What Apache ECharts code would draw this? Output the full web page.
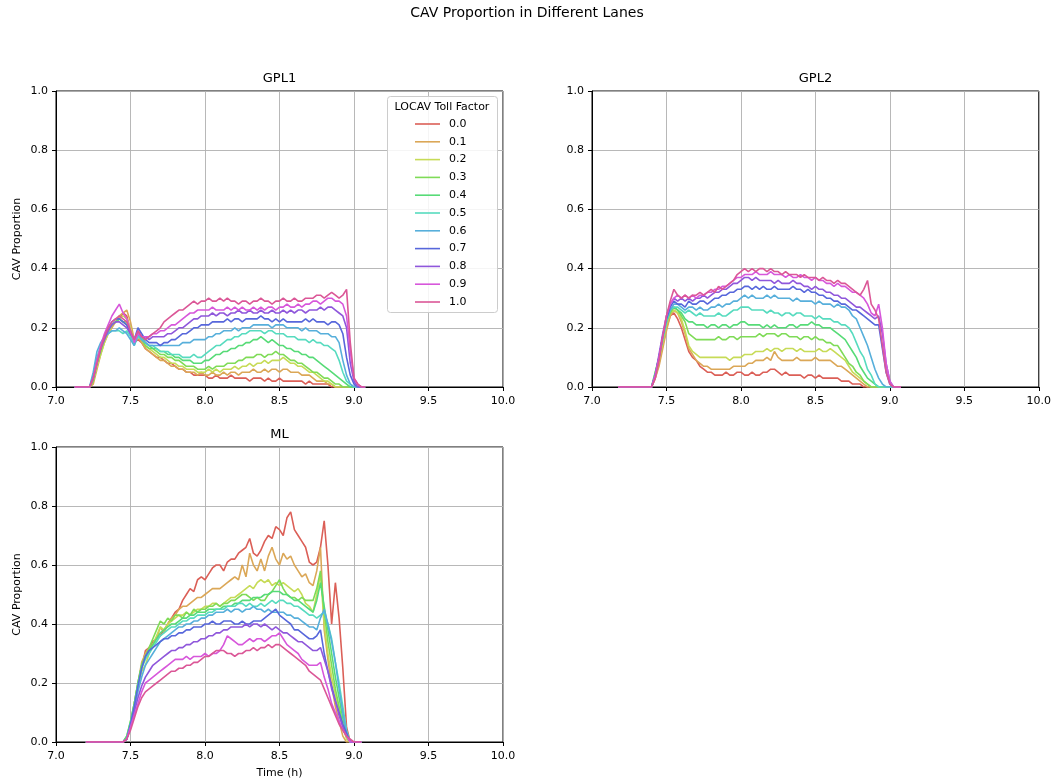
<!DOCTYPE html>
<html>
<head>
    <meta charset="utf-8">
    <title>CAV Proportion in Different Lanes</title>
    <script src="https://cdn.jsdelivr.net/npm/echarts@6/dist/echarts.min.js"></script>
    <style>
        html, body { margin: 0; padding: 0; background: #fff; }
        #main { width: 1054px; height: 784px; }
    </style>
</head>
<body>
<div id="main"></div>
<script>
    // time of day (h), one sample every 1.5 min
    var times = [7.100, 7.125, 7.150, 7.175, 7.200, 7.225, 7.250, 7.275, 7.300, 7.325,
        7.350, 7.375, 7.400, 7.425, 7.450, 7.475, 7.500, 7.525, 7.550, 7.575,
        7.600, 7.625, 7.650, 7.675, 7.700, 7.725, 7.750, 7.775, 7.800, 7.825,
        7.850, 7.875, 7.900, 7.925, 7.950, 7.975, 8.000, 8.025, 8.050, 8.075,
        8.100, 8.125, 8.150, 8.175, 8.200, 8.225, 8.250, 8.275, 8.300, 8.325,
        8.350, 8.375, 8.400, 8.425, 8.450, 8.475, 8.500, 8.525, 8.550, 8.575,
        8.600, 8.625, 8.650, 8.675, 8.700, 8.725, 8.750, 8.775, 8.800, 8.825,
        8.850, 8.875, 8.900, 8.925, 8.950, 8.975, 9.000, 9.025, 9.050, 9.075, 9.100];

    var factors = ['0.0', '0.1', '0.2', '0.3', '0.4', '0.5', '0.6', '0.7', '0.8', '0.9', '1.0'];

    // CAV proportion in percent, one row per toll factor (0.0 .. 1.0)
    var gpl1 = [
        [null, 0,0,0,0,0, 2,7,12,16,19, 21,22,23,25,24, 19,15,16,15,13, 12,11,10,10,9, 8,8,7,6,6, 5,5,4,4,4, 4,3,3,4,3, 3,3,4,3,3, 3,3,2,3,3, 3,2,3,2,2, 3,2,2,2,2, 2,2,1,2,1, 1,1,1,1,0, 0,0,0,0,0,0,0,0,0, null],
        [null, 0,0,0,0,0, 1,6,11,15,18, 20,22,24,25,26, 22,16,17,15,13, 12,11,10,9,9, 8,7,7,6,6, 5,5,5,4,5, 4,4,5,4,4, 5,4,5,5,4, 5,5,5,6,5, 5,6,5,6,6, 5,6,6,5,5, 5,4,4,4,3, 2,2,2,1,1, 0,0,0,0,0,0,0,0,0, null],
        [null, 0,0,0,0,0, 2,7,11,15,18, 21,22,23,24,23, 20,15,17,16,14, 13,12,11,10,10, 9,8,8,7,7, 6,6,6,5,5, 5,6,5,6,5, 6,6,6,7,6, 7,7,8,7,8, 8,9,8,9,9, 9,10,9,8,8, 7,7,6,5,5, 4,3,2,2,1, 0,0,0,0,0,0,0,0,0, null],
        [null, 0,0,0,0,0, 2,8,12,16,19, 21,22,23,22,22, 19,15,17,16,14, 13,13,12,11,11, 10,10,9,9,8, 7,7,7,6,6, 6,7,6,7,7, 7,8,8,8,9, 9,10,10,10,11, 11,10,11,11,12, 11,11,10,9,9, 8,8,7,6,5, 5,4,3,3,2, 1,1,0,0,0,0,0,0,0, null],
        [null, 0,0,0,0,0, 3,8,13,17,19, 21,22,23,22,21, 18,15,18,17,15, 14,13,13,12,12, 11,11,10,10,9, 9,9,8,8,8, 9,9,10,11,11, 12,12,13,13,14, 14,15,15,16,16, 17,16,15,16,15, 14,14,13,13,12, 12,11,11,10,10, 9,8,7,6,5, 4,3,2,1,0,0,0,0,0, null],
        [null, 0,0,0,0,0, 4,10,14,17,18, 19,19,19,18,19, 17,14,17,16,15, 14,14,13,12,12, 12,11,11,11,10, 10,10,11,10,10, 11,12,13,14,14, 15,16,16,17,17, 18,18,19,19,19, 19,18,19,19,18, 18,18,17,17,17, 16,16,16,15,16, 15,15,14,14,13, 12,9,5,2,1,0,0,0,0, null],
        [null, 0,0,0,0,0, 5,12,15,17,18, 19,19,20,19,18, 16,14,18,16,15, 14,14,14,14,14, 14,14,14,14,15, 15,15,16,16,16, 16,17,17,18,18, 19,19,19,20,19, 20,20,20,21,21, 21,21,21,20,21, 21,21,20,20,20, 20,19,20,19,19, 19,18,18,18,17, 17,15,9,4,1,0,0,0,0, null],
        [null, 0,0,0,0,0, 3,9,13,17,20, 22,23,23,22,21, 18,16,20,18,16, 15,15,15,14,15, 15,16,16,17,18, 18,19,20,20,21, 21,21,22,22,22, 22,23,22,23,23, 22,23,23,23,23, 24,23,23,22,23, 22,23,22,22,22, 22,22,23,22,23, 22,22,22,21,22, 22,21,18,10,4,1,0,0,0, null],
        [null, 0,0,0,0,0, 3,8,13,16,19, 21,22,22,21,20, 18,16,19,17,17, 16,17,17,17,17, 18,18,19,20,20, 21,22,23,23,24, 24,24,25,24,25, 25,24,25,25,26, 25,25,26,25,25, 26,25,25,26,25, 25,26,25,26,25, 26,26,25,26,26, 26,27,26,27,27, 26,25,24,20,8,2,0,0,0, null],
        [null, 0,0,0,0,0, 3,9,14,18,21, 24,26,28,25,23, 19,15,18,17,17, 17,18,18,19,19, 20,21,21,22,23, 24,25,25,26,26, 26,26,27,26,26, 26,27,26,27,26, 27,26,26,27,26, 27,26,27,27,26, 27,27,28,27,27, 28,27,28,28,29, 29,28,29,30,30, 29,29,28,24,12,3,1,0,0, null],
        [null, 0,0,0,0,0, 3,8,13,17,20, 22,23,24,23,22, 19,16,19,17,16, 17,18,19,20,22, 23,24,25,26,26, 27,28,29,28,29, 29,30,29,29,30, 29,30,29,29,28, 29,29,28,29,29, 30,29,29,28,29, 29,30,29,29,30, 29,29,30,30,30, 31,31,30,31,32, 31,30,31,33,15,3,1,0,0, null]
    ];

    var gpl2 = [
        [null,null,null, 0,0,0,0,0,0,0,0,0,0, 3,8,14,20,24, 25,23,20,16,12, 10,9,7,6,5, 5,4,4,4,5, 4,4,5,5,4, 4,5,4,4,5, 5,6,6,5,4, 5,4,4,4,4, 3,4,4,3,4, 3,3,3,3,3, 2,2,2,1,1, 1,0,0,0,0, 0,0,0,0,0,0,0, null],
        [null,null,null, 0,0,0,0,0,0,0,0,0,0, 3,7,13,19,24, 26,25,22,18,13, 11,9,8,7,7, 6,6,6,6,6, 6,7,7,7,7, 8,8,9,9,9, 10,9,12,10,9, 9,9,9,10,9, 9,9,9,10,9, 9,9,9,8,7, 7,6,5,4,3, 2,1,0,0,0, 0,0,0,0,0,0,0, null],
        [null,null,null, 0,0,0,0,0,0,0,0,0,0, 4,9,15,21,25, 26,25,23,19,14, 12,11,10,10,10, 10,10,10,10,10, 9,10,10,10,11, 11,11,12,12,12, 13,12,13,13,12, 13,13,13,12,13, 12,12,12,12,13, 12,12,13,12,11, 10,9,7,5,4, 3,2,1,0,0, 0,0,0,0,0,0,0, null],
        [null,null,null, 0,0,0,0,0,0,0,0,0,0, 5,10,16,22,25, 27,26,24,22,18, 17,16,16,16,16, 16,16,17,16,16, 17,17,16,17,17, 17,17,17,18,17, 18,18,18,17,18, 18,17,17,17,16, 17,17,16,17,16, 16,15,15,14,14, 12,10,8,7,5, 4,2,1,0,0, 0,0,0,0,0,0,0, null],
        [null,null,null, 0,0,0,0,0,0,0,0,0,0, 5,10,17,22,26, 27,26,25,23,22, 22,21,21,21,20, 21,21,20,21,21, 20,21,21,22,22, 21,21,21,21,20, 21,20,21,20,20, 20,21,21,20,21, 21,21,22,21,21, 20,20,20,19,18, 17,16,14,12,10, 7,5,3,2,1, 0,0,0,0,0,0,0, null],
        [null,null,null, 0,0,0,0,0,0,0,0,0,0, 4,10,16,22,26, 27,27,26,25,26, 25,24,25,24,24, 24,24,25,24,24, 25,26,26,27,27, 27,26,26,26,26, 25,26,25,25,24, 25,25,24,25,25, 24,24,24,23,24, 23,23,23,22,22, 21,21,20,18,15, 12,10,6,4,1, 0,0,0,0,0,0,0, null],
        [null,null,null, 0,0,0,0,0,0,0,0,0,0, 4,10,17,23,26, 28,28,27,26,27, 27,26,27,26,26, 27,27,28,27,28, 28,29,29,30,31, 30,31,30,30,30, 31,30,31,30,30, 30,30,29,30,29, 29,29,29,28,29, 28,28,28,27,28, 27,27,26,24,23, 20,17,14,10,6, 3,1,0,0,0,0,0, null],
        [null,null,null, 0,0,0,0,0,0,0,0,0,0, 4,10,17,23,27, 29,28,28,27,29, 28,28,29,29,28, 29,30,30,31,31, 32,32,33,33,34, 34,33,34,33,34, 33,33,34,33,33, 33,33,34,33,33, 32,33,32,32,31, 31,30,30,29,29, 28,28,27,26,26, 25,24,23,22,21, 21,13,5,1,0,0,0, null],
        [null,null,null, 0,0,0,0,0,0,0,0,0,0, 4,11,18,24,28, 30,29,30,29,30, 29,30,30,31,30, 31,32,32,33,33, 34,35,35,36,37, 37,36,37,36,36, 36,36,35,36,35, 35,35,36,35,35, 34,34,33,34,33, 33,32,32,31,31, 30,30,29,28,27, 27,26,25,24,23, 24,18,8,2,0,0,0, null],
        [null,null,null, 0,0,0,0,0,0,0,0,0,0, 4,10,17,24,28, 30,31,30,31,30, 31,30,31,31,32, 32,33,33,34,34, 35,36,37,37,38, 38,38,39,38,38, 38,39,38,38,38, 37,38,37,37,38, 37,37,36,37,36, 36,35,35,34,35, 34,34,33,32,32, 31,30,28,25,24, 28,20,8,2,0,0,0, null],
        [null,null,null, 0,0,0,0,0,0,0,0,0,0, 3,9,17,24,29, 33,31,30,31,30, 31,31,32,31,32, 33,32,34,33,34, 35,36,38,39,40, 39,40,39,40,40, 39,40,39,39,38, 39,38,38,38,37, 38,37,37,37,36, 37,36,36,35,36, 35,35,34,33,32, 31,33,36,28,26, 23,14,5,1,0,0,0, null]
    ];

    var ml = [
        [null,null,null,null, 0,0,0,0,0,0,0,0,0,0,0, 1,6,12,19,25, 31,32,34,35,36, 38,40,42,44,45, 48,50,52,51,55, 56,55,57,59,60, 60,58,61,62,62, 64,65,66,69,64, 63,65,68,70,69, 73,72,70,76,78, 72,70,68,66,61, 60,61,66,75,60, 40,54,42,25,5, 0,0,0,0, null,null],
        [null,null,null,null, 0,0,0,0,0,0,0,0,0,0,0, 1,6,13,20,27, 30,32,33,35,39, 37,40,42,43,45, 46,46,47,48,49, 49,50,51,52,52, 52,53,54,55,56, 55,60,56,64,60, 58,62,58,63,66, 62,60,64,62,63, 60,58,56,57,54, 53,58,66,38,28, 19,12,7,2,0, 0,0,0,0, null,null],
        [null,null,null,null, 0,0,0,0,0,0,0,0,0,0,0, 1,6,12,19,24, 26,30,33,36,39, 38,40,41,42,43, 43,44,43,44,45, 45,46,46,47,47, 46,47,48,49,49, 50,51,52,53,52, 54,55,54,55,53, 54,53,54,53,52, 51,52,50,47,46, 44,50,57,40,30, 22,16,11,5,1, 0,0,0,0, null,null],
        [null,null,null,null, 0,0,0,0,0,0,0,0,0,0,0, 2,7,13,20,26, 29,32,35,38,41, 40,42,41,43,43, 42,44,43,45,44, 45,45,46,46,47, 46,47,47,48,48, 49,50,50,49,48, 49,48,48,50,51, 53,55,52,50,49, 49,48,49,48,48, 48,52,58,44,34, 26,18,12,6,2, 0,0,0,0, null,null],
        [null,null,null,null, 0,0,0,0,0,0,0,0,0,0,0, 2,7,13,20,26, 29,31,33,35,37, 38,39,40,40,41, 42,42,43,43,44, 44,44,45,45,45, 45,46,46,46,47, 47,48,48,48,49, 49,49,50,50,51, 51,51,50,50,49, 48,48,47,46,45, 44,48,54,46,38, 30,22,15,8,3, 0,0,0,0, null,null],
        [null,null,null,null, 0,0,0,0,0,0,0,0,0,0,0, 1,6,12,19,25, 28,30,32,34,36, 37,38,39,39,40, 41,41,42,42,43, 43,43,44,44,45, 45,45,46,46,46, 47,47,46,47,46, 46,47,46,47,48, 47,48,48,47,47, 46,46,45,44,43, 43,42,43,44,40, 35,27,20,12,4, 0,0,0,0, null,null],
        [null,null,null,null, 0,0,0,0,0,0,0,0,0,0,0, 1,6,11,17,22, 26,28,30,32,34, 35,36,37,38,39, 39,40,40,41,41, 42,42,43,43,44, 44,44,45,44,45, 45,44,45,45,46, 45,45,44,45,44, 44,44,44,43,43, 42,42,41,40,39, 39,38,42,45,40, 34,27,18,10,3, 0,0,0,0, null,null],
        [null,null,null,null, 0,0,0,0,0,0,0,0,0,0,0, 1,6,12,19,25, 29,31,32,33,34, 35,35,36,36,37, 37,38,38,39,39, 39,40,40,41,40, 40,41,41,41,40, 40,41,40,40,41, 41,41,42,43,44, 45,43,42,41,40, 38,38,37,36,35, 35,36,38,30,24, 19,14,10,6,3, 0,0,0,0, null,null],
        [null,null,null,null, 0,0,0,0,0,0,0,0,0,0,0, 1,5,10,15,19, 22,24,26,27,28, 29,30,31,31,32, 32,33,33,34,34, 35,35,36,36,37, 37,38,38,39,39, 39,39,40,39,40, 40,39,40,39,38, 39,38,37,37,36, 35,34,34,33,32, 31,31,32,28,24, 18,14,9,5,2, 0,0,0,0, null,null],
        [null,null,null,null, 0,0,0,0,0,0,0,0,0,0,0, 1,5,9,13,17, 20,21,22,23,24, 25,26,27,28,28, 28,29,28,29,29, 29,30,29,30,30, 31,33,36,35,34, 33,33,34,35,34, 35,35,34,35,36, 36,37,35,33,32, 31,30,28,27,26, 26,26,27,22,18, 13,10,7,4,2, 0,0,0,0, null,null],
        [null,null,null,null, 0,0,0,0,0,0,0,0,0,0,0, 1,4,8,12,15, 17,18,19,20,21, 22,23,24,24,25, 25,26,26,27,27, 28,29,29,30,31, 31,31,30,30,29, 30,30,31,31,32, 31,32,32,33,32, 33,33,32,31,30, 29,28,27,26,24, 23,22,21,18,15, 12,9,6,4,2, 1,0,0,0, null,null]
    ];

    var colors = ['#db5f57', '#dba757', '#c7db57', '#7fdb57', '#57db77', '#57dbbf',
        '#57afdb', '#5767db', '#8f57db', '#d757db', '#db5797'];

    var font = '"DejaVu Sans", sans-serif';

    var chart = echarts.init(document.getElementById('main'), null, { renderer: 'canvas' });

    function laneSeries(rows, idx) {
        return rows.map(function (row, k) {
            var pts = [];
            row.forEach(function (v, i) {
                if (v !== null) pts.push([times[i], v / 100]);
            });
            return {
                name: factors[k],
                type: 'line',
                xAxisIndex: idx,
                yAxisIndex: idx,
                symbol: 'none',
                animation: false,
                lineStyle: { width: 1.6, color: colors[k] },
                itemStyle: { color: colors[k] },
                data: pts
            };
        });
    }

    function xAxis(idx, name) {
        return {
            type: 'value', gridIndex: idx, min: 7, max: 10, interval: 0.5,
            name: name, nameLocation: 'middle', nameGap: 26,
            nameTextStyle: { fontSize: 11, fontFamily: font, color: '#000' },
            axisLine: { onZero: false, lineStyle: { color: '#000', width: 1 } },
            axisTick: { length: 4, lineStyle: { color: '#000' } },
            axisLabel: {
                margin: 9, fontSize: 11, fontFamily: font, color: '#000',
                formatter: function (v) { return v.toFixed(1); }
            },
            splitLine: { show: true, lineStyle: { color: '#b0b0b0', width: 0.9 } }
        };
    }

    function yAxis(idx, name) {
        return {
            type: 'value', gridIndex: idx, min: 0, max: 1, interval: 0.2,
            name: name, nameLocation: 'middle', nameGap: 33,
            nameTextStyle: { fontSize: 11, fontFamily: font, color: '#000' },
            axisLine: { show: true, onZero: false, lineStyle: { color: '#000', width: 1 } },
            axisTick: { show: true, length: 4, lineStyle: { color: '#000' } },
            axisLabel: {
                margin: 8, fontSize: 11, fontFamily: font, color: '#000',
                formatter: function (v) { return v.toFixed(1); }
            },
            splitLine: { show: true, lineStyle: { color: '#b0b0b0', width: 0.9 } }
        };
    }

    var gridBox = { show: true, borderColor: '#000', borderWidth: 1, backgroundColor: 'transparent' };

    function label(text, x, y, size) {
        return {
            type: 'text', z: 51,
            style: {
                text: text, x: x, y: y, align: 'center', verticalAlign: 'middle',
                font: size + 'px ' + font, fill: '#000'
            }
        };
    }

    chart.setOption({
        backgroundColor: '#fff',
        animation: false,
        grid: [
            Object.assign({ left: 56, top: 91, width: 447, height: 296 }, gridBox),
            Object.assign({ left: 592, top: 91, width: 447, height: 296 }, gridBox),
            Object.assign({ left: 56, top: 447, width: 447, height: 295 }, gridBox)
        ],
        xAxis: [xAxis(0, ''), xAxis(1, ''), xAxis(2, 'Time (h)')],
        yAxis: [yAxis(0, 'CAV Proportion'), yAxis(1, ''), yAxis(2, 'CAV Proportion')],
        legend: {
            data: factors,
            orient: 'vertical',
            left: 415,
            top: 118.5,
            padding: 0,
            icon: 'rect',
            itemWidth: 25,
            itemHeight: 1.6,
            itemGap: 6.8,
            z: 60,
            textStyle: { fontSize: 11, fontFamily: font, color: '#000', padding: [0, 0, 0, 4] }
        },
        graphic: [
            label('CAV Proportion in Different Lanes', 527, 13, 14),
            label('GPL1', 279.5, 79, 13),
            label('GPL2', 815.5, 79, 13),
            label('ML', 279.5, 435, 13),
            {
                type: 'rect', z: 50,
                shape: { x: 387.5, y: 96.5, width: 110, height: 216, r: 3 },
                style: { fill: 'rgba(255,255,255,0.85)', stroke: '#cccccc', lineWidth: 1 }
            },
            label('LOCAV Toll Factor', 442, 107, 11)
        ],
        series: [].concat(laneSeries(gpl1, 0), laneSeries(gpl2, 1), laneSeries(ml, 2))
    });
</script>
</body>
</html>
